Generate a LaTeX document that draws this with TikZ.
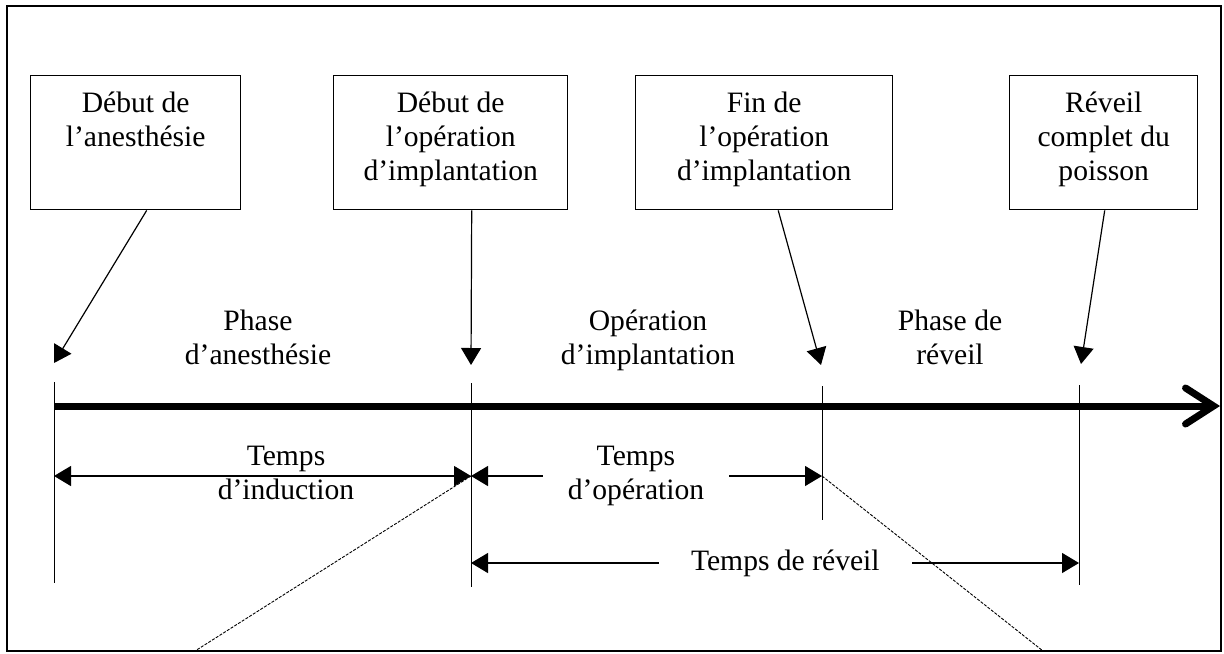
\documentclass[tikz,border=0pt]{standalone}
\usepackage{fontspec}
\setmainfont{Liberation Serif}
\usetikzlibrary{arrows.meta}

\begin{document}
\begin{tikzpicture}[x=0.5pt,y=-0.5pt,
    evtbox/.style={draw, line width=0.7pt, inner sep=0pt, anchor=north west},
    lbl/.style={align=center, inner sep=0pt, font=\fontsize{14.8pt}{17pt}\selectfont},
    tick/.style={line width=0.5pt},
    pointer/.style={line width=0.6pt, -{Triangle[length=8.5pt,width=10pt]}},
    span/.style={line width=0.6pt, {Triangle[length=8.5pt,width=10pt]}-{Triangle[length=8.5pt,width=10pt]}},
    guide/.style={line width=0.45pt, dash pattern=on 1.5pt off 0.7pt}]
  \useasboundingbox (0,0) rectangle (1224,653);

  % Frame
  \draw [line width=1pt] (7,6) rectangle (1221,651);

  % Event boxes
  \node [evtbox, minimum width=105pt, minimum height=67pt] (deb) at (30,75) {};
  \node [evtbox, minimum width=117pt, minimum height=67pt] (debop) at (333,75) {};
  \node [evtbox, minimum width=128.5pt, minimum height=67pt] (finop) at (635,75) {};
  \node [evtbox, minimum width=94pt, minimum height=67pt] (rev) at (1009,75) {};
  \node [lbl, anchor=north] (debT) at ([yshift=-8.5pt]deb.north) {Début de\\l’anesthésie};
  \node [lbl, anchor=north] (debopT) at ([yshift=-8.5pt]debop.north) {Début de\\l’opération\\d’implantation};
  \node [lbl, anchor=north] (finopT) at ([yshift=-8.5pt]finop.north) {Fin de\\l’opération\\d’implantation};
  \node [lbl, anchor=north] (revT) at ([yshift=-8.5pt]rev.north) {Réveil\\complet du\\poisson};

  % Instants on the time axis
  \coordinate (p1) at (54,363);
  \coordinate (p2) at (471,365);
  \coordinate (p3) at (821,365);
  \coordinate (p4) at (1081,364);
  \draw [pointer] ([xshift=5.5pt]deb.south) -- (p1);
  \draw [pointer] ([xshift=10.5pt]debop.south) -- (p2);
  \draw [pointer] ([xshift=7pt]finop.south) -- (p3);
  \draw [pointer] ([xshift=0.5pt]rev.south) -- (p4);

  % Time axis
  \draw [line width=3.5pt, -{Straight Barb[length=14pt,width=18pt,line cap=round]}] (54,406) -- (1220,406);
  \draw [tick] (54,382) -- (54,583);
  \draw [tick] (471,383) -- (471,587);
  \draw [tick] (822,386) -- (822,520);
  \draw [tick] (1079,385) -- (1079,585);

  % Phases
  \node [lbl, anchor=north] (phAn) at (258,310) {Phase\\d’anesthésie};
  \node [lbl, anchor=north] (phOp) at (648,310) {Opération\\d’implantation};
  \node [lbl, anchor=north] (phRev) at (950,310) {Phase de\\réveil};

  % Durations
  \coordinate (i1) at (54,476);
  \coordinate (i2) at (471,476);
  \coordinate (o3) at (822,476);
  \coordinate (r2) at (471,563);
  \coordinate (r4) at (1079,563);
  \draw [span] (i1) -- (i2);
  \node [lbl, anchor=north] (tInd) at (286,446) {Temps\\d’induction};
  \draw [span] (i2) -- node [lbl, pos=0.47, fill=white, inner xsep=12.5pt, inner ysep=1pt] (tOp) {Temps\\d’opération} (o3);
  \draw [span] (r2) -- node [lbl, pos=0.517, fill=white, inner xsep=16pt, inner ysep=2pt] (tRev) {Temps de réveil} (r4);

  % Guides
  \coordinate (g1) at (195,651);
  \coordinate (g2) at (1043,651);
  \draw [guide] (i2) -- (g1);
  \draw [guide] (o3) -- (g2);
\end{tikzpicture}
\end{document}
